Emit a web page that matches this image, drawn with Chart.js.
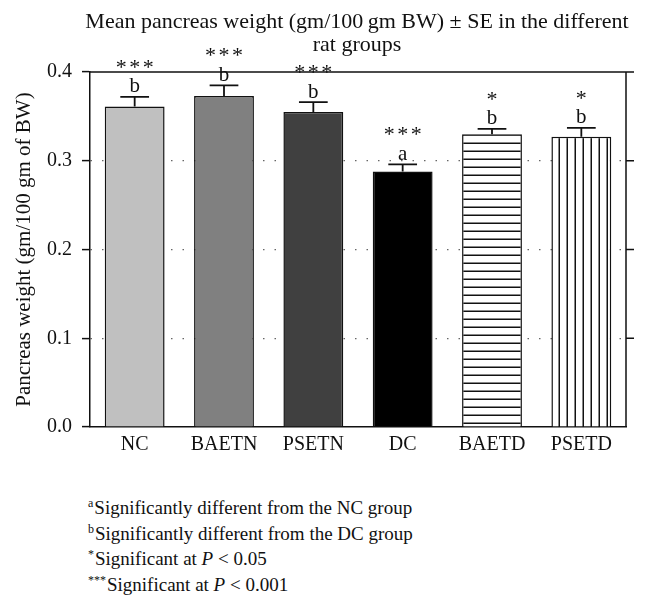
<!DOCTYPE html>
<html>
<head>
<meta charset="utf-8">
<script src="https://cdn.jsdelivr.net/npm/chart.js@4"></script>
<style>
  body { margin: 0; background: #fff; }
  .page { position: relative; width: 646px; height: 613px; font-family: 'Liberation Serif', serif; color: #111; }
  .chart-box { position: absolute; left: 0; top: 0; width: 646px; height: 470px; }
  .title { position: absolute; left: 57px; width: 600px; top: 9px; text-align: center; font-size: 22px; line-height: 23px; white-space: nowrap; }
  .notes { position: absolute; left: 88px; top: 495px; font-size: 19px; line-height: 25.5px; white-space: nowrap; }
  .notes sup { font-size: 12px; vertical-align: 7px; line-height: 0; margin-right: 1px; }
</style>
</head>
<body>
<div class="page">
  <div class="chart-box"><canvas id="chart"></canvas></div>
  <div class="title">Mean pancreas weight (gm/100&#8239;gm BW) ± SE in the different<br>rat groups</div>
  <div class="notes">
    <div><sup>a</sup>Significantly different from the NC group</div>
    <div><sup>b</sup>Significantly different from the DC group</div>
    <div><sup>*</sup>Significant at <i>P</i> &lt; 0.05</div>
    <div><sup>***</sup>Significant at <i>P</i> &lt; 0.001</div>
  </div>
</div>
<script>
const groups = ['NC', 'BAETN', 'PSETN', 'DC', 'BAETD', 'PSETD'];
const meanWeight = [0.361, 0.373, 0.355, 0.288, 0.330, 0.327];
const seWeight = [0.011, 0.012, 0.011, 0.008, 0.006, 0.010];
const letters = ['b', 'b', 'b', 'a', 'b', 'b'];
const stars = ['***', '***', '***', '***', '*', '*'];
const yTicks = [0, 0.1, 0.2, 0.3, 0.4];

const SERIF = "'Liberation Serif', serif";

// striped fills for the two last bars
function stripes(dir) {
  const c = document.createElement('canvas');
  c.width = 8; c.height = 8;
  const g = c.getContext('2d');
  g.fillStyle = '#fff';
  g.fillRect(0, 0, 8, 8);
  g.fillStyle = '#111';
  if (dir === 'h') g.fillRect(0, 6.5, 8, 1.6);
  else g.fillRect(6.5, 0, 1.6, 8);
  return g.createPattern(c, 'repeat');
}

const fills = ['#c0c0c0', '#808080', '#404040', '#000000', stripes('h'), stripes('v')];

// error bars, letters and stars above each bar
const errorBars = {
  id: 'errorBars',
  afterDatasetsDraw(chart) {
    const ctx = chart.ctx;
    const y = chart.scales.y;
    const meta = chart.getDatasetMeta(0);
    ctx.save();
    meta.data.forEach((bar, i) => {
      const top = y.getPixelForValue(meanWeight[i] + seWeight[i]);
      const base = y.getPixelForValue(meanWeight[i]);
      const half = bar.width * 0.24;
      ctx.strokeStyle = '#111';
      ctx.lineWidth = 1.8;
      ctx.beginPath();
      ctx.moveTo(bar.x, base);
      ctx.lineTo(bar.x, top);
      ctx.moveTo(bar.x - half, top);
      ctx.lineTo(bar.x + half, top);
      ctx.stroke();

      ctx.fillStyle = '#111';
      ctx.textAlign = 'center';
      ctx.textBaseline = 'alphabetic';
      ctx.font = '21px ' + SERIF;
      ctx.fillText(letters[i], bar.x, top - 4.5);
      ctx.font = '22px ' + SERIF;
      const n = stars[i].length;
      for (let k = 0; k < n; k++) {
        ctx.fillText(stars[i][k], bar.x + (k - (n - 1) / 2) * 13.5, top - 23);
      }
    });
    ctx.restore();
  }
};

// top border and right axis with outward ticks
const frame = {
  id: 'frame',
  afterDraw(chart) {
    const { ctx, chartArea } = chart;
    const y = chart.scales.y;
    ctx.save();
    ctx.strokeStyle = '#111';
    ctx.lineWidth = 1.5;
    ctx.beginPath();
    ctx.moveTo(chartArea.left, chartArea.top);
    ctx.lineTo(chartArea.right, chartArea.top);
    ctx.moveTo(chartArea.right, chartArea.top);
    ctx.lineTo(chartArea.right, chartArea.bottom);
    yTicks.forEach(v => {
      if (v === 0) return;
      const py = y.getPixelForValue(v);
      ctx.moveTo(chartArea.right, py);
      ctx.lineTo(chartArea.right + 8, py);
    });
    ctx.stroke();
    ctx.restore();
  }
};

new Chart(document.getElementById('chart'), {
  type: 'bar',
  data: {
    labels: groups,
    datasets: [{
      data: meanWeight,
      backgroundColor: fills,
      borderColor: '#111',
      borderWidth: 1.5,
      barPercentage: 0.67,
      categoryPercentage: 1
    }]
  },
  options: {
    responsive: true,
    maintainAspectRatio: false,
    animation: false,
    layout: { padding: { top: 72, right: 20, left: 0, bottom: 0 } },
    plugins: {
      legend: { display: false },
      tooltip: { enabled: false }
    },
    scales: {
      x: {
        afterFit(scale) { scale.height = 43; },
        grid: { display: false, drawTicks: false },
        border: { color: '#111', width: 1.5 },
        ticks: { color: '#111', padding: 6, font: { family: SERIF, size: 20 } }
      },
      y: {
        min: 0,
        max: 0.4,
        afterFit(scale) { scale.width = 90; },
        afterBuildTicks(scale) { scale.ticks = yTicks.map(v => ({ value: v })); },
        title: {
          display: true,
          text: 'Pancreas weight (gm/100 gm of BW)',
          color: '#111',
          font: { family: SERIF, size: 21 },
          padding: { top: 12, bottom: 0 }
        },
        border: { color: '#111', width: 1.5, dash: [1.5, 10] },
        grid: {
          color: c => (c.tick.value > 0 && c.tick.value < 0.4) ? '#666' : 'rgba(0,0,0,0)',
          lineWidth: 1.2,
          tickColor: '#111',
          tickLength: 8,
          tickWidth: 1.5,
          tickBorderDash: []
        },
        ticks: {
          color: '#111',
          padding: 10,
          font: { family: SERIF, size: 20 },
          callback: v => Number(v).toFixed(1)
        }
      }
    }
  },
  plugins: [errorBars, frame]
});
</script>
</body>
</html>
